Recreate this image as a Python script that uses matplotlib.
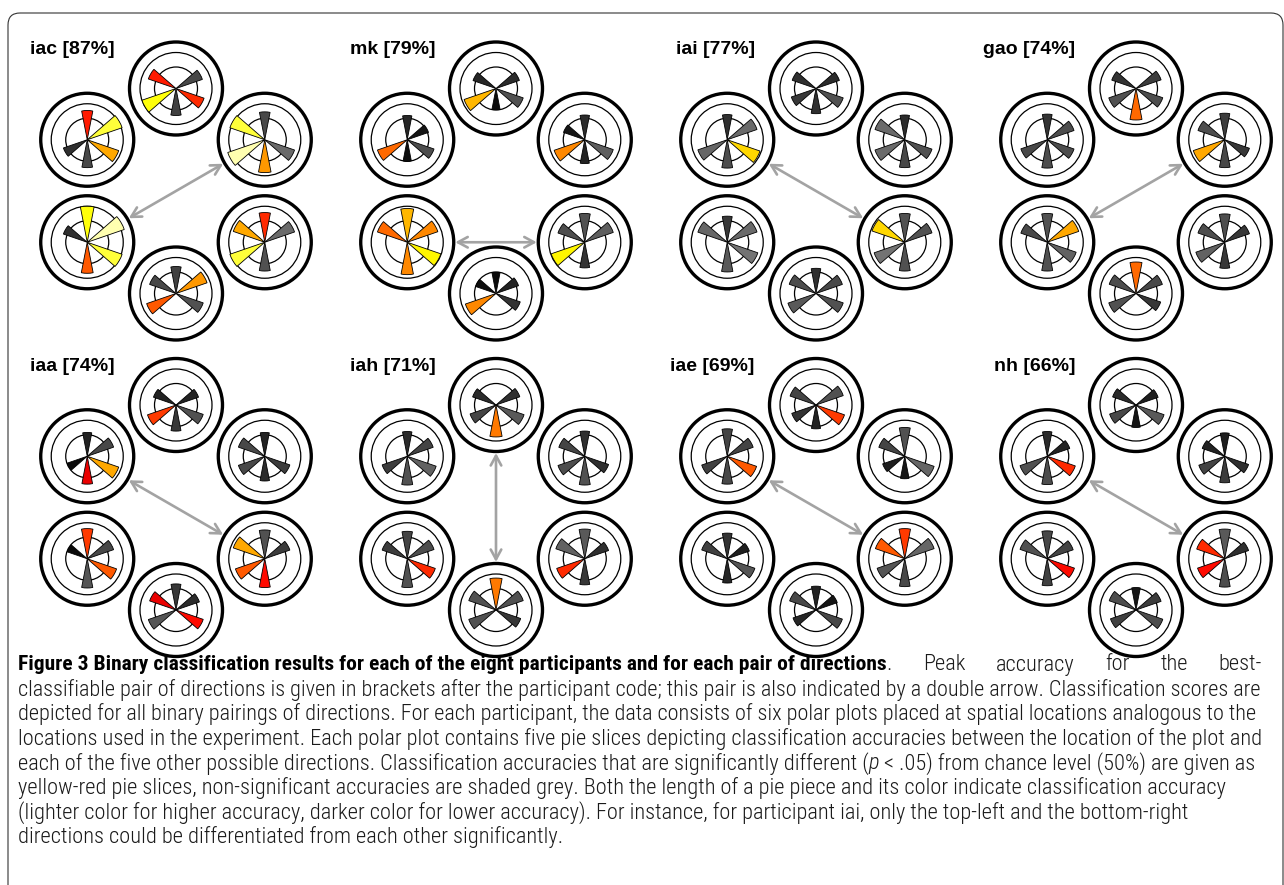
#!/usr/bin/env python
"""Figure 3: binary classification accuracies per participant, drawn as hexagons of polar pie plots."""
import numpy as np
import matplotlib
matplotlib.use("Agg")
import matplotlib.pyplot as plt
from matplotlib import font_manager
from matplotlib.patches import Circle, FancyArrowPatch, FancyBboxPatch, Wedge

# ---- data ---------------------------------------------------------------
participants = ["iac", "mk", "iai", "gao", "iaa", "iah", "iae", "nh"]

# target directions (deg): upper-right, top, upper-left, lower-left, bottom, lower-right
directions = [30, 90, 150, 210, 270, 330]
pairs = [(0, 1), (0, 2), (0, 3), (0, 4), (0, 5), (1, 2), (1, 3), (1, 4),
         (1, 5), (2, 3), (2, 4), (2, 5), (3, 4), (3, 5), (4, 5)]

# accuracy (%) for each pair above, and significance vs chance (p < .05)
acc_iac = [62, 82, 87, 73, 70, 65, 80, 60, 66, 56, 62, 74, 69, 82, 64]
sig_iac = [0, 1, 1, 1, 0, 1, 1, 0, 1, 0, 0, 1, 1, 1, 0]
acc_mk = [55, 50, 72, 53, 67, 54, 75, 47, 64, 70, 48, 63, 72, 79, 57]
sig_mk = [0, 0, 1, 0, 0, 0, 1, 0, 0, 1, 0, 0, 1, 1, 0]
acc_iai = [55, 70, 70, 62, 64, 56, 58, 56, 64, 69, 63, 77, 66, 72, 64]
sig_iai = [0, 0, 0, 0, 0, 0, 0, 0, 0, 0, 0, 1, 0, 0, 0]
acc_gao = [59, 63, 74, 62, 58, 57, 64, 70, 63, 62, 63, 63, 64, 68, 58]
sig_gao = [0, 0, 1, 0, 0, 0, 0, 1, 0, 0, 0, 0, 0, 0, 0]
acc_iaa = [53, 62, 62, 55, 59, 53, 67, 58, 64, 47, 62, 74, 65, 69, 64]
sig_iaa = [0, 0, 0, 0, 0, 0, 1, 0, 0, 0, 1, 1, 0, 1, 1]
acc_iah = [56, 61, 63, 64, 56, 55, 61, 71, 66, 59, 64, 68, 64, 66, 58]
sig_iah = [0, 0, 0, 0, 0, 0, 0, 1, 0, 0, 0, 0, 0, 1, 0]
acc_iae = [64, 61, 52, 50, 69, 61, 57, 53, 67, 60, 62, 69, 54, 65, 62]
sig_iae = [0, 0, 0, 0, 0, 0, 0, 0, 1, 0, 0, 1, 0, 0, 0]
acc_nh = [52, 53, 61, 59, 56, 55, 62, 50, 66, 64, 63, 66, 60, 64, 63]
sig_nh = [0, 0, 0, 0, 0, 0, 0, 0, 0, 0, 0, 1, 0, 1, 0]

accuracies = [acc_iac, acc_mk, acc_iai, acc_gao, acc_iaa, acc_iah, acc_iae, acc_nh]
significant = [sig_iac, sig_mk, sig_iai, sig_gao, sig_iaa, sig_iah, sig_iae, sig_nh]

caption_title = "Figure 3 Binary classification results for each of the eight participants and for each pair of directions"
caption_first = ["Peak", "accuracy", "for", "the", "best-"]
caption_lines = [
    [("classifiable pair of directions is given in brackets after the participant code; this pair is also indicated by a double arrow. Classification scores are", "normal")],
    [("depicted for all binary pairings of directions. For each participant, the data consists of six polar plots placed at spatial locations analogous to the", "normal")],
    [("locations used in the experiment. Each polar plot contains five pie slices depicting classification accuracies between the location of the plot and", "normal")],
    [("each of the five other possible directions. Classification accuracies that are significantly different (", "normal"),
     ("p", "italic"),
     (" < .05) from chance level (50%) are given as", "normal")],
    [("yellow-red pie slices, non-significant accuracies are shaded grey. Both the length of a pie piece and its color indicate classification accuracy", "normal")],
    [("(lighter color for higher accuracy, darker color for lower accuracy). For instance, for participant iai, only the top-left and the bottom-right", "normal")],
    [("directions could be differentiated from each other significantly.", "normal")],
]
justified = [True, True, True, False, False, False, False]

# ---- layout (pixels) ----------------------------------------------------
W, H = 1284, 885
COL_X = [176, 496, 816, 1136]
ROW_Y = [191, 507.5]
HEX_R = 102.5
LABEL_X = [30, 350, 676, 983, 30, 350, 670, 994]
R_OUT, R_MID, R_IN = 46.5, 36, 21.5
R_FULL = 45.0          # wedge length for 100 % accuracy
HALF_W = 11            # half opening of a pie slice (deg)
CAP_X, CAP_RIGHT, TITLE_END = 18, 1262, 880
CAP_Y = [665, 690, 714.5, 739, 763.5, 788, 812.5, 837]
BODY_WEIGHT = "light"

hot = plt.get_cmap("hot")


def sig_color(a):
    return hot(np.clip(0.38 + (a - 64) * 0.0235, 0, 1))


def ns_color(a):
    g = float(np.clip(0.05 + (a - 48) * 0.0167, 0.04, 0.47))
    return (g, g, g)


def pick_font(cands):
    for fam in cands:
        try:
            font_manager.findfont(font_manager.FontProperties(family=fam), fallback_to_default=False)
            return fam
        except ValueError:
            pass
    return "DejaVu Sans"


cap_font = pick_font(["Liberation Sans Narrow", "Roboto Condensed", "Open Sans Condensed", "DejaVu Sans"])
label_font = pick_font(["Liberation Sans", "Arial", "DejaVu Sans"])


def pos(cx, cy, k):
    d = np.deg2rad(directions[k])
    return cx + HEX_R * np.cos(d), cy - HEX_R * np.sin(d)


def draw_polar(ax, x, y, own, matrix, sigm):
    for r, lw in [(R_OUT, 2.4), (R_MID, 0.9), (R_IN, 0.9)]:
        ax.add_patch(Circle((x, y), r, fill=False, ec="black", lw=lw, zorder=1))
    for k, d in enumerate(directions):
        if k == own:
            continue
        a = matrix[own, k]
        fc = sig_color(a) if sigm[own, k] else ns_color(a)
        # y axis is inverted, so screen angle d is data angle -d
        ax.add_patch(Wedge((x, y), a / 100 * R_FULL, -d - HALF_W, -d + HALF_W,
                           fc=fc, ec="black", lw=0.6, zorder=2))


fig = plt.figure(figsize=(W / 100, H / 100), dpi=100)
ax = fig.add_axes([0, 0, 1, 1])
ax.set_xlim(0, W)
ax.set_ylim(H, 0)
ax.axis("off")

ax.add_patch(FancyBboxPatch((8, 13), 1275, 900, boxstyle="round,pad=0,rounding_size=12",
                            fill=False, ec="#333333", lw=0.8))

for p, name in enumerate(participants):
    cx, cy = COL_X[p % 4], ROW_Y[p // 4]
    m = np.zeros((6, 6))
    s = np.zeros((6, 6), dtype=bool)
    for (i, j), a, sg in zip(pairs, accuracies[p], significant[p]):
        m[i, j] = m[j, i] = a
        s[i, j] = s[j, i] = bool(sg)
    for k in range(6):
        x, y = pos(cx, cy, k)
        draw_polar(ax, x, y, k, m, s)

    # best significant pair -> double arrow + label
    best = max((a, q) for q, (a, sg) in enumerate(zip(accuracies[p], significant[p])) if sg)
    i, j = pairs[best[1]]
    (x1, y1), (x2, y2) = pos(cx, cy, i), pos(cx, cy, j)
    v = np.array([x2 - x1, y2 - y1])
    v /= np.hypot(*v)
    a_pt = (x1 + v[0] * (R_OUT + 1.5), y1 + v[1] * (R_OUT + 1.5))
    b_pt = (x2 - v[0] * (R_OUT + 1.5), y2 - v[1] * (R_OUT + 1.5))
    ax.add_patch(FancyArrowPatch(a_pt, b_pt, arrowstyle="<->,head_length=7,head_width=3.8",
                                 color="#a3a3a3", lw=1.9, shrinkA=0, shrinkB=0, zorder=3))
    ax.text(LABEL_X[p], cy - 141, f"{name} [{best[0]}%]", fontsize=14, fontweight="bold",
            family=label_font, ha="left", va="center")

# ---- caption ------------------------------------------------------------
renderer = fig.canvas.get_renderer()


def put(x, y, text, size, style="normal", weight=BODY_WEIGHT, color="#1a1a1a"):
    t = ax.text(x, y, text, fontsize=size, fontweight=weight, fontstyle=style,
                family=cap_font, color=color, ha="left", va="center")
    return t.get_window_extent(renderer).width


def seg_width(text, size, style="normal", weight=BODY_WEIGHT):
    t = ax.text(0, 0, text, fontsize=size, fontweight=weight, fontstyle=style, family=cap_font)
    w = t.get_window_extent(renderer).width
    t.remove()
    return w


def space_width(size):
    return seg_width("x x", size) - seg_width("xx", size)


def line_width(segs, size):
    w = 0
    for text, style in segs:
        w += seg_width(text.strip(), size, style)
        if text.startswith(" "):
            w += space_width(size)
    return w


base = 11.0
body = float(np.mean([base * (CAP_RIGHT - CAP_X) / line_width(caption_lines[n], base) for n in (0, 1, 2)]))

# first line: bold title, then the rest of the sentence spread to the right margin
title_size = base * (TITLE_END - CAP_X) / seg_width(caption_title, base, weight="bold")
x = CAP_X + put(CAP_X, CAP_Y[0], caption_title, title_size, weight="bold", color="black")
x += put(x, CAP_Y[0], ".", body)
words_w = [seg_width(w, body) for w in caption_first]
gap = (CAP_RIGHT - x - sum(words_w)) / len(caption_first)
for w, ww in zip(caption_first, words_w):
    x += gap
    put(x, CAP_Y[0], w, body)
    x += ww

for segs, y, just in zip(caption_lines, CAP_Y[1:], justified):
    sz = body * (CAP_RIGHT - CAP_X) / line_width(segs, body) if just else body
    x = CAP_X
    for text, style in segs:
        if text.startswith(" "):
            x += space_width(sz)
        x += put(x, y, text.strip(), sz, style)

fig.savefig("out.png", dpi=100)
